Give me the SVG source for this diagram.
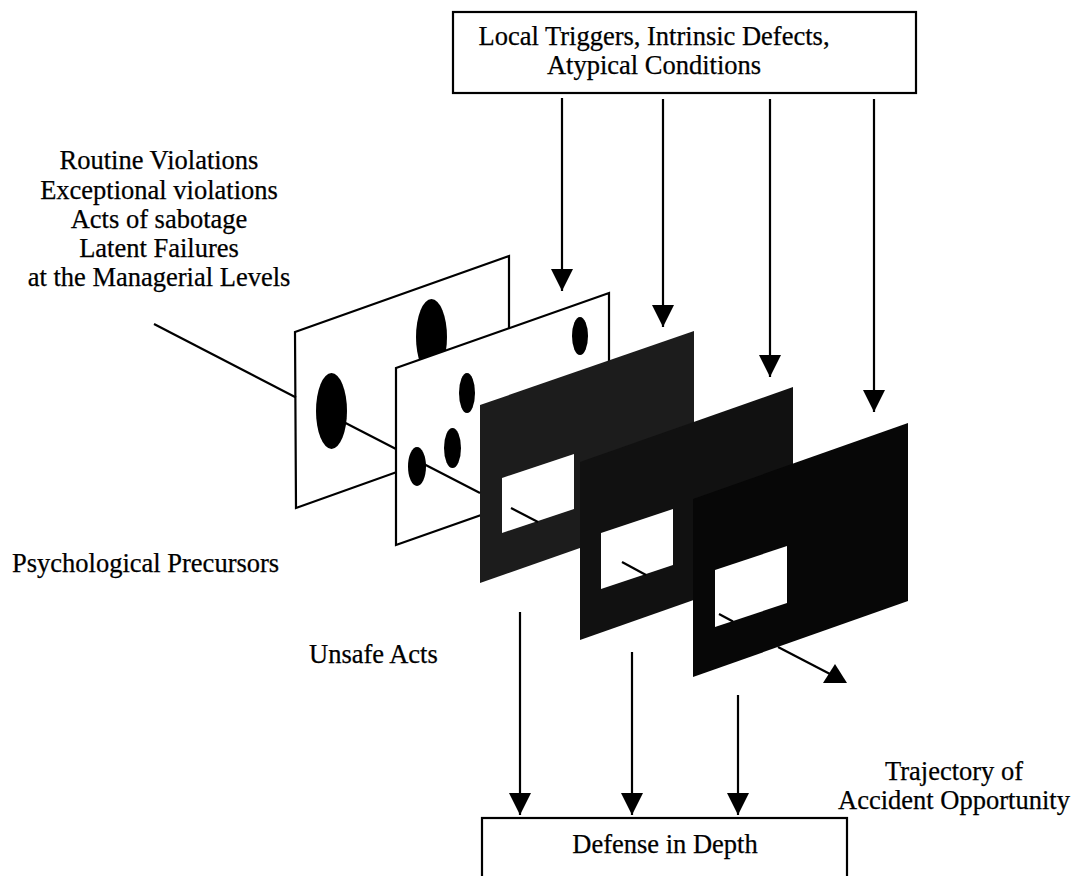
<svg xmlns="http://www.w3.org/2000/svg" width="1075" height="876" viewBox="0 0 1075 876">
  <defs>
    <style>
      text { font-family: "Liberation Serif", "Times New Roman", serif; font-size: 26.5px; fill: #000; stroke: #000; stroke-width: 0.25; }
      .mid { text-anchor: middle; }
      .box { fill: #fff; stroke: #000; stroke-width: 2.2; }
      .sheet { fill: #fff; stroke: #000; stroke-width: 2.2; stroke-linejoin: miter; }
      .hole { fill: #fff; stroke: none; }
      .spot { fill: #000; }
      .wire { fill: none; stroke: #000; stroke-width: 2.2; }
      .head { fill: #000; }
    </style>
    <!-- filled triangular head; tip sits on the line end -->
    <marker id="arrow" markerWidth="22" markerHeight="22" viewBox="0 0 22 22" refX="22" refY="11" orient="auto" markerUnits="userSpaceOnUse">
      <path d="M0,0 L22,11 L0,22 Z" fill="#000"/>
    </marker>
  </defs>

  <!-- source box -->
  <g id="triggers">
    <rect class="box" x="453" y="12" width="463" height="81"/>
    <text class="mid" x="654" y="45">Local Triggers, Intrinsic Defects,</text>
    <text class="mid" x="654" y="73.5">Atypical Conditions</text>
  </g>

  <!-- labels -->
  <g id="latent-failures">
    <text class="mid" x="159" y="169.3">Routine Violations</text>
    <text class="mid" x="159" y="198.5">Exceptional violations</text>
    <text class="mid" x="159" y="227.7">Acts of sabotage</text>
    <text class="mid" x="159" y="256.9">Latent Failures</text>
    <text class="mid" x="159" y="286.1">at the Managerial Levels</text>
  </g>
  <g id="precursors">
    <text x="12" y="572">Psychological Precursors</text>
  </g>
  <g id="unsafe-acts">
    <text x="309" y="663">Unsafe Acts</text>
  </g>
  <g id="trajectory-label">
    <text class="mid" x="954" y="780">Trajectory of</text>
    <text class="mid" x="954" y="809">Accident Opportunity</text>
  </g>

  <!-- layers, back to front -->
  <g id="layer-1">
    <polygon class="sheet" points="295,332 509,256 509,432 296,508"/>
    <ellipse class="spot" cx="331.5" cy="411" rx="15.5" ry="38"/>
    <ellipse class="spot" cx="431.5" cy="337" rx="15.5" ry="38"/>
  </g>
  <g id="layer-2">
    <polygon class="sheet" points="396,368 609,293 609,470 396,545"/>
    <ellipse class="spot" cx="580" cy="336" rx="8" ry="19"/>
    <ellipse class="spot" cx="467" cy="393" rx="8" ry="20"/>
    <ellipse class="spot" cx="452.5" cy="448" rx="8.5" ry="20"/>
    <ellipse class="spot" cx="417" cy="466.5" rx="9" ry="19.5"/>
  </g>
  <g id="layer-3">
    <polygon fill="#1c1c1c" points="480,405 694,331 694,508 480,583"/>
    <polygon class="hole" points="502,478 574,454 574,509 502,533"/>
  </g>
  <g id="layer-4">
    <polygon fill="#111" points="580,462 793,387 793,565 580,640"/>
    <polygon class="hole" points="601,533 673,509 673,565 601,589"/>
  </g>
  <g id="layer-5">
    <polygon fill="#070707" points="693,499 908,423 908,601 693,677"/>
    <polygon class="hole" points="715,570 787,546 787,603 715,627"/>
  </g>

  <!-- bottom box -->
  <g id="defense">
    <rect class="box" x="482" y="818" width="365" height="70"/>
    <text class="mid" x="665" y="853">Defense in Depth</text>
  </g>

  <g id="connectors">
    <!-- triggers acting on each layer -->
    <line class="wire" x1="562" y1="98" x2="562" y2="291" marker-end="url(#arrow)"/>
    <line class="wire" x1="663" y1="99" x2="663" y2="327" marker-end="url(#arrow)"/>
    <line class="wire" x1="770" y1="99" x2="770" y2="377" marker-end="url(#arrow)"/>
    <line class="wire" x1="874" y1="99" x2="874" y2="412" marker-end="url(#arrow)"/>
    <!-- layers feeding defense in depth -->
    <line class="wire" x1="520" y1="612" x2="520" y2="815" marker-end="url(#arrow)"/>
    <line class="wire" x1="632" y1="652" x2="632" y2="815" marker-end="url(#arrow)"/>
    <line class="wire" x1="738" y1="695" x2="738" y2="815" marker-end="url(#arrow)"/>
    <!-- accident trajectory, visible pieces only -->
    <line class="wire" x1="154" y1="324" x2="296" y2="397.5"/>
    <line class="wire" x1="332" y1="416" x2="396" y2="449"/>
    <line class="wire" x1="417" y1="460.5" x2="480" y2="493"/>
    <line class="wire" x1="511" y1="508" x2="538" y2="522"/>
    <line class="wire" x1="622" y1="562" x2="646" y2="575"/>
    <line class="wire" x1="719" y1="614" x2="733" y2="621.5"/>
    <line class="wire" x1="778" y1="647" x2="830" y2="674"/>
    <polygon class="head" points="823,683 847,683 835,664"/>
  </g>
</svg>
